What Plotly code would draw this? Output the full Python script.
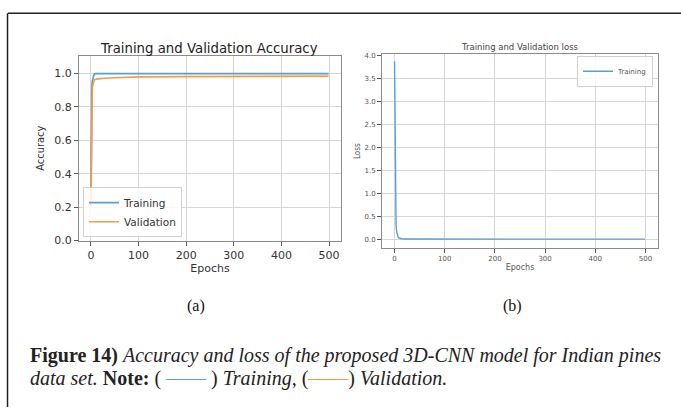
import plotly.graph_objects as go

# ---------------- data ----------------
acc_epochs = [0, 1, 2, 3, 4, 5, 6, 7, 8, 9, 10, 15, 20, 30, 50, 100, 200, 300, 400, 499]
train_acc = [0.21, 0.80, 0.92, 0.95, 0.97, 0.98, 0.99, 0.995, 0.998, 1.0, 1.0, 1.0, 1.0, 1.0, 1.0, 1.0, 1.0, 1.0, 1.0, 1.0]
val_acc = [0.20, 0.60, 0.90, 0.92, 0.93, 0.945, 0.955, 0.96, 0.963, 0.965, 0.966, 0.968, 0.970, 0.972, 0.975, 0.980, 0.982, 0.983, 0.984, 0.985]

loss_epochs = [0, 1, 2, 3, 4, 5, 6, 7, 8, 9, 10, 12, 15, 20, 50, 100, 200, 300, 400, 499]
train_loss = [3.87, 1.70, 0.70, 0.32, 0.18, 0.11, 0.07, 0.05, 0.035, 0.025, 0.02, 0.014, 0.01, 0.006, 0.003, 0.002, 0.001, 0.001, 0.001, 0.001]

x_ticks = [0, 100, 200, 300, 400, 500]
acc_ticks = [0.0, 0.2, 0.4, 0.6, 0.8, 1.0]
loss_ticks = [0.0, 0.5, 1.0, 1.5, 2.0, 2.5, 3.0, 3.5, 4.0]

BLUE = "#5a9fd4"
ORANGE = "#f99a45"
W, H = 681, 414

fig = go.Figure()
fig.add_trace(go.Scatter(x=acc_epochs, y=train_acc, mode="lines", name="Training",
                         line=dict(color=BLUE, width=1.8), xaxis="x", yaxis="y", legend="legend"))
fig.add_trace(go.Scatter(x=acc_epochs, y=val_acc, mode="lines", name="Validation",
                         line=dict(color=ORANGE, width=1.6), xaxis="x", yaxis="y", legend="legend"))
fig.add_trace(go.Scatter(x=loss_epochs, y=train_loss, mode="lines", name="Training",
                         line=dict(color=BLUE, width=1.4), xaxis="x2", yaxis="y2", legend="legend2"))

def px_x(p):
    return p / W

def px_y(p):
    return 1 - p / H

axis_common = dict(showline=True, mirror=True, linecolor="#8a8a8a", linewidth=1,
                   showgrid=True, gridcolor="#d6d6d6", gridwidth=1, zeroline=False,
                   ticks="outside", tickcolor="#555", ticklen=4)

fig.update_layout(
    width=W, height=H,
    margin=dict(l=0, r=0, t=0, b=0),
    paper_bgcolor="white", plot_bgcolor="white",
    font=dict(family="DejaVu Sans", color="#333"),
    xaxis=dict(domain=[px_x(79), px_x(341)], range=[-25, 525], anchor="y",
               tickvals=x_ticks, tickfont=dict(size=11, color="#333"),
               title=dict(text="Epochs", font=dict(size=11, color="#333"), standoff=2),
               **axis_common),
    yaxis=dict(domain=[px_y(243.5), px_y(54)], range=[0, 1.107], anchor="x",
               tickvals=acc_ticks, tickformat=".1f", tickfont=dict(size=11, color="#333"),
               title=dict(text="Accuracy", font=dict(size=11, color="#333", family="DejaVu Sans Condensed, DejaVu Sans"), standoff=7),
               **axis_common),
    xaxis2=dict(domain=[px_x(382), px_x(658)], range=[-25, 525], anchor="y2",
                tickvals=x_ticks, tickfont=dict(size=7, color="#555"),
                title=dict(text="Epochs", font=dict(size=8, color="#555"), standoff=2),
                **axis_common),
    yaxis2=dict(domain=[px_y(251), px_y(52.7)], range=[-0.19, 4.02], anchor="x2",
                tickvals=loss_ticks, tickformat=".1f", tickfont=dict(size=7, color="#555"),
                title=dict(text="Loss", font=dict(size=8, color="#555", family="DejaVu Sans Condensed, DejaVu Sans"), standoff=2),
                **axis_common),
    legend=dict(x=px_x(83), y=px_y(240), xanchor="left", yanchor="bottom",
                bgcolor="rgba(255,255,255,0.85)", bordercolor="#d0d0d0", borderwidth=1,
                font=dict(size=10.5, color="#333"), tracegroupgap=0, itemwidth=30),
    legend2=dict(x=px_x(653), y=px_y(54), xanchor="right", yanchor="top",
                 bgcolor="rgba(255,255,255,0.85)", bordercolor="#d0d0d0", borderwidth=1,
                 font=dict(size=7, color="#555"), itemwidth=30),
    showlegend=True,
)

annotations = [
    dict(text="Training and Validation Accuracy", x=px_x(209), y=px_y(47), font=dict(size=13.3, color="#222")),
    dict(text="Training and Validation loss", x=px_x(520), y=px_y(45), font=dict(size=8.5, color="#444")),
    dict(text="(a)", x=px_x(196), y=px_y(311), font=dict(size=16, family="Liberation Serif", color="#111")),
    dict(text="(b)", x=px_x(512), y=px_y(311), font=dict(size=16, family="Liberation Serif", color="#111")),
]
for a in annotations:
    a.update(xref="paper", yref="paper", showarrow=False, xanchor="center", yanchor="middle")
    fig.add_annotation(**a)

cap_font = dict(size=20, family="Liberation Serif", color="#222")
fig.add_annotation(
    text="<b>Figure 14)</b> <i>Accuracy and loss of the proposed 3D-CNN model for Indian pines</i>",
    x=px_x(28), y=px_y(361), xref="paper", yref="paper", xanchor="left", yanchor="middle",
    showarrow=False, font=cap_font)
fig.add_annotation(
    text=("<i>data set.</i> <b>Note:</b> ( <span style='color:" + BLUE + "'>\u2014\u2014</span> ) <i>Training</i>, "
          "(<span style='color:" + ORANGE + "'>\u2014\u2014</span>) <i>Validation.</i>"),
    x=px_x(28), y=px_y(385), xref="paper", yref="paper", xanchor="left", yanchor="middle",
    showarrow=False, font=cap_font)

# outer frame (top and left edges)
fig.add_shape(type="line", xref="paper", yref="paper", x0=px_x(8), x1=1.0, y0=px_y(10.5), y1=px_y(10.5),
              line=dict(color="#222", width=1.5))
fig.add_shape(type="line", xref="paper", yref="paper", x0=px_x(7.5), x1=px_x(7.5), y0=px_y(10.5), y1=0,
              line=dict(color="#222", width=1.5))

fig.write_html("out.html")
